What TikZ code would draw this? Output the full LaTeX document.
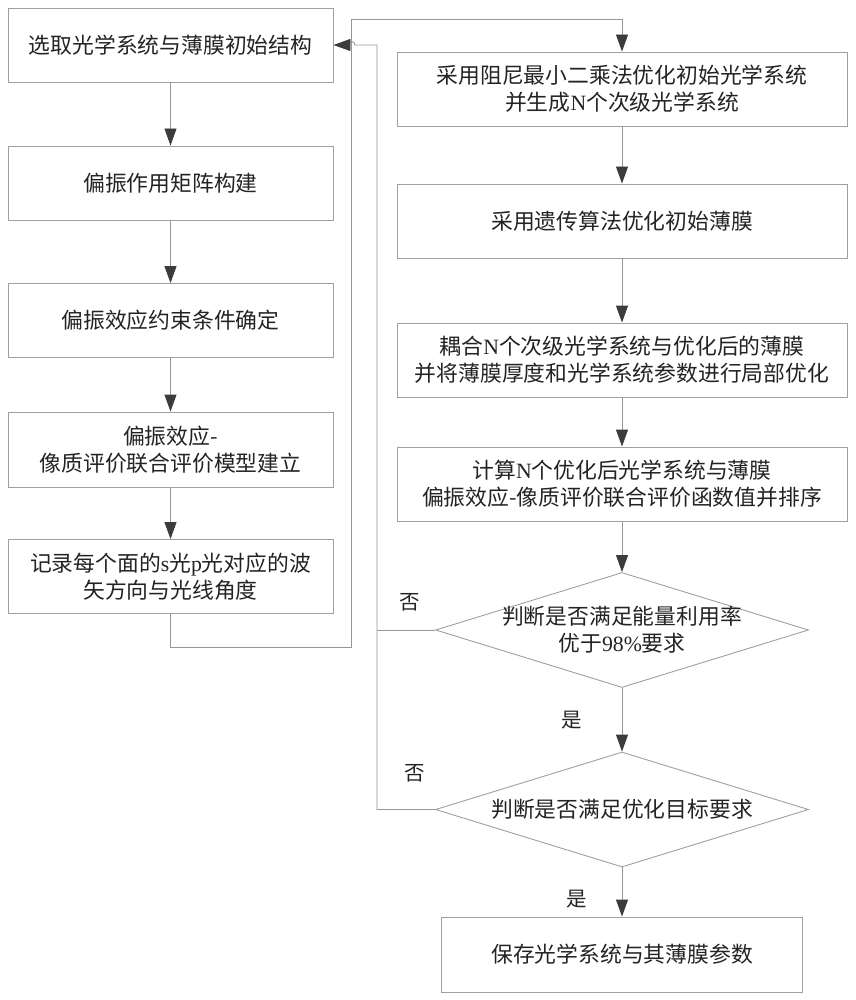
\documentclass[tikz,border=0pt]{standalone}
\usepackage{fontspec}
\setmainfont{Noto Sans CJK SC}
\newfontfamily\lat{Liberation Serif}
\usetikzlibrary{arrows.meta,shapes.geometric}
\definecolor{boxgray}{RGB}{160,160,160}
\definecolor{linegray}{RGB}{150,150,150}
\definecolor{headgray}{RGB}{60,60,60}
\definecolor{txt}{RGB}{35,35,35}
\tikzset{
  stepbox/.style={draw=boxgray, line width=0.9pt, minimum width=325pt, minimum height=74pt,
    align=center, inner sep=0pt, text=txt, font=\fontsize{21.8}{27}\selectfont},
  wbox/.style={stepbox, minimum width=450pt},
  decide/.style={draw=boxgray, line width=0.9pt, shape=diamond, minimum width=373pt,
    minimum height=115pt, inner sep=0pt},
  conn/.style={draw=linegray, line width=0.9pt},
  arr/.style={conn, -{Triangle[width=12pt,length=17pt,color=headgray]}},
  lbl/.style={text=txt, font=\fontsize{20.5}{24}\selectfont, inner sep=0pt},
  dtext/.style={text=txt, align=center, font=\fontsize{21.8}{27}\selectfont, inner sep=0pt}
}
\begin{document}
\begin{tikzpicture}[x=1pt,y=-1pt]
\useasboundingbox (0,0) rectangle (855,1000);
% left column
\node[stepbox] (b1) at (170.5,45) {选取光学系统与薄膜初始结构};
\node[stepbox] (b2) at (170.5,183) {偏振作用矩阵构建};
\node[stepbox] (b3) at (170.5,320.5) {偏振效应约束条件确定};
\node[stepbox, minimum height=75pt] (b4) at (170.5,449.5) {偏振效应-\\像质评价联合评价模型建立};
\node[stepbox] (b5) at (170.5,576.5) {记录每个面的{\lat s}光{\lat p}光对应的波\\矢方向与光线角度};
% right column
\node[wbox] (r1) at (622,89) {采用阻尼最小二乘法优化初始光学系统\\并生成{\lat N}个次级光学系统};
\node[wbox] (r2) at (622,221) {采用遗传算法优化初始薄膜};
\node[wbox] (r3) at (622,360) {耦合{\lat N}个次级光学系统与优化后的薄膜\\并将薄膜厚度和光学系统参数进行局部优化};
\node[wbox] (r4) at (622,484) {计算{\lat N}个优化后光学系统与薄膜\\偏振效应-像质评价联合评价函数值并排序};
\node[decide] (d1) at (622,630) {};
\node[dtext] (t1) at (d1.center) {判断是否满足能量利用率\\优于{\lat 98\%}要求};
\node[decide] (d2) at (622,809.5) {};
\node[dtext] (t2) at (d2.center) {判断是否满足优化目标要求};
\node[stepbox, minimum width=361pt, minimum height=75pt] (r5) at (622,954.5) {保存光学系统与其薄膜参数};
% labels
\node[lbl] (n1) at (410,602) {否};
\node[lbl] (n2) at (415,773) {否};
\node[lbl] (y1) at (572,720) {是};
\node[lbl] (y2) at (577,899) {是};
% connectors left column
\draw[arr] (b1.south) -- (b2.north);
\draw[arr] (b2.south) -- (b3.north);
\draw[arr] (b3.south) -- (b4.north);
\draw[arr] (b4.south) -- (b5.north);
% crossing to right column
\coordinate (p2) at (351,647);
\coordinate (p3) at (351,19);
\draw[arr] (b5.south) |- (p2) -- (p3) -| (r1.north);
% right column
\draw[arr] (r1.south) -- (r2.north);
\draw[arr] (r2.south) -- (r3.north);
\draw[arr] (r3.south) -- (r4.north);
\draw[arr] (r4.south) -- (d1.north);
\draw[arr] (d1.south) -- (d2.north);
\draw[arr] (d2.south) -- (r5.north);
% feedback loops
\coordinate (q0) at (377,45);
\draw[conn] (d1.west) -- (d1.west -| q0);
\draw[arr] (d2.west) -| (q0) -- (355,45) arc[start angle=0, end angle=180, radius=3.5pt] -- (b1.east);
\end{tikzpicture}
\end{document}
